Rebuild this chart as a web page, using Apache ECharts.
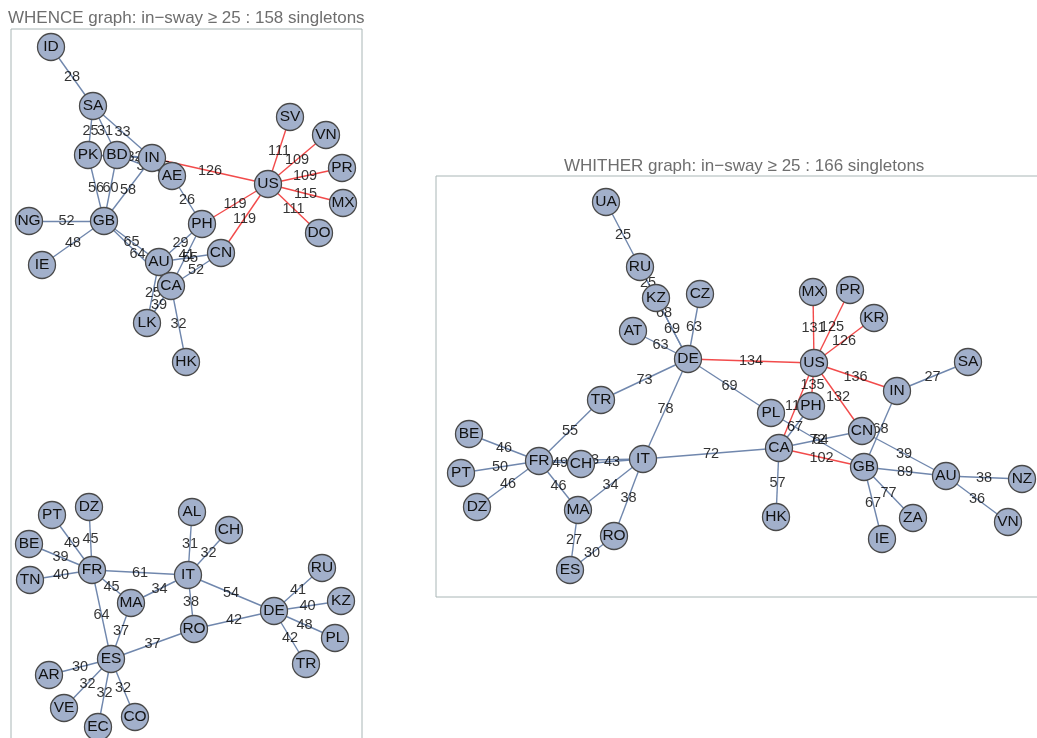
<!DOCTYPE html>
<html><head><meta charset="utf-8">
<script src="https://cdn.jsdelivr.net/npm/echarts@6/dist/echarts.min.js"></script>
<style>html,body{margin:0;padding:0;background:#fff}#c{width:1037px;height:738px}</style>
</head><body><div id="c"></div><script>
// ---- WHENCE graph data ----
const whenceNames = ['ID','SA','PK','BD','IN','AE','US','SV','VN','PR','MX','DO','PH','GB','NG','IE','AU','CN','CA','LK','HK',
  'PT','DZ','BE','TN','FR','AL','CH','IT','MA','RO','DE','RU','KZ','PL','TR','ES','AR','VE','EC','CO'];
const whenceX = [51,93,88,117,152,172,268,290,326,342,343,319,202,104,29,42,159,221,171,147,186,
  52,89,29,30,92,192,229,188,131,194,274,322,341,335,306,111,49,64,98,135];
const whenceY = [47,106,155,155,158,176,184,117,135,168,203,233,224,221,221,265,262,253,286,323,362,
  515,507,544,580,570,512,530,575,603,629,611,568,601,638,664,659,675,708,727,717];
const whenceLinks = [
  ['ID','SA',28],['SA','PK',25],['SA','BD',31],['SA','IN',33],['PK','IN',34],['BD','IN',32],['BD','AE',30],['IN','AE',35],
  ['IN','US',126],['US','SV',111],['US','VN',109],['US','PR',109],['US','MX',115],['US','DO',111],['US','PH',119],['US','CN',119],
  ['AE','PH',26],['GB','PK',56],['GB','BD',60],['GB','IN',58],['GB','NG',52],['GB','IE',48],['GB','AU',65],['GB','CA',64],
  ['AU','PH',29],['CA','PH',41],['AU','CN',55],['CA','CN',52],['AU','LK',25],['CA','LK',39],['CA','HK',32],
  ['FR','PT',49],['FR','DZ',45],['FR','BE',39],['FR','TN',40],['FR','IT',61],['FR','MA',45],['FR','ES',64],
  ['IT','AL',31],['IT','CH',32],['IT','MA',34],['IT','RO',38],['IT','DE',54],['MA','ES',37],['ES','RO',37],['RO','DE',42],
  ['DE','RU',41],['DE','KZ',40],['DE','PL',48],['DE','TR',42],['ES','AR',30],['ES','VE',32],['ES','EC',32],['ES','CO',32]
];
// ---- WHITHER graph data ----
const whitherNames = ['UA','RU','KZ','CZ','AT','DE','MX','PR','KR','US','SA','IN','PL','PH','CN','CA','GB','AU','NZ','VN','HK','ZA','IE',
  'TR','BE','PT','DZ','FR','CH','IT','MA','RO','ES'];
const whitherX = [606,640,656,700,633,688,813,850,874,814,968,897,771,811,862,779,864,946,1022,1008,776,913,882,
  601,469,461,477,539,581,643,578,614,570];
const whitherY = [202,267,298,294,331,359,292,290,318,363,362,391,413,406,431,448,467,476,479,522,517,518,539,
  400,434,473,507,461,464,459,510,536,570];
const whitherLinks = [
  ['UA','RU',25],['RU','KZ',25],['RU','DE',68],['KZ','DE',69],['CZ','DE',63],['AT','DE',63],['DE','TR',73],['DE','US',134],
  ['DE','PL',69],['DE','IT',78],['US','MX',131],['US','PR',125],['US','KR',126],['US','IN',136],['US','CN',132],['US','PH',135],
  ['US','CA',117],['PH','CA',67],['PL','GB',72],['CA','CN',64],['CA','GB',102],['IN','GB',68],['CN','AU',39],['GB','AU',89],
  ['AU','NZ',38],['AU','VN',36],['GB','ZA',77],['GB','IE',67],['CA','HK',57],['IT','CA',72],['IN','SA',27],
  ['TR','FR',55],['FR','BE',46],['FR','PT',50],['FR','DZ',46],['FR','CH',49],['CH','IT',43],['FR','IT',53],['FR','MA',46],
  ['MA','IT',34],['IT','RO',38],['MA','ES',27],['RO','ES',30]
];
const strongThreshold = 100;
const titles = ['WHENCE graph: in\u2212sway \u2265 25 : 158 singletons', 'WHITHER graph: in\u2212sway \u2265 25 : 166 singletons'];

// ---- styling ----
const FONT = 'Liberation Sans, Arial, sans-serif';
const nodeFill = '#a2b0cb', nodeBorder = '#4a4a4a';
const weakColor = '#7087ad', strongColor = '#f24b4b';

function build(names, xs, ys, links, gi) {
  const pos = {};
  names.forEach((n, i) => pos[n] = [xs[i], ys[i]]);
  const lineData = links.map(l => ({
    coords: [pos[l[0]], pos[l[1]]],
    lineStyle: { color: l[2] >= strongThreshold ? strongColor : weakColor }
  }));
  const labelData = links.map(l => [(pos[l[0]][0] + pos[l[1]][0]) / 2, (pos[l[0]][1] + pos[l[1]][1]) / 2, l[2]]);
  const nodeData = names.map(n => ({ name: n, value: pos[n] }));
  return [
    { type: 'lines', coordinateSystem: 'cartesian2d', xAxisIndex: gi, yAxisIndex: gi, z: 1, silent: true,
      lineStyle: { width: 1.4, opacity: 1 }, data: lineData },
    { type: 'scatter', xAxisIndex: gi, yAxisIndex: gi, z: 2, silent: true, symbolSize: 0,
      label: { show: true, position: 'inside', formatter: p => p.value[2], fontSize: 14.5, color: '#000', fontFamily: FONT },
      data: labelData },
    { type: 'scatter', xAxisIndex: gi, yAxisIndex: gi, z: 3, silent: true, symbol: 'circle', symbolSize: 27,
      itemStyle: { color: nodeFill, borderColor: nodeBorder, borderWidth: 1.3, opacity: 1 },
      label: { show: true, position: 'inside', formatter: '{b}', fontSize: 15.5, color: '#111', fontFamily: FONT },
      data: nodeData }
  ];
}

const chart = echarts.init(document.getElementById('c'), null, { renderer: 'canvas' });
const hiddenAxis = { show: false, type: 'value' };
chart.setOption({
  backgroundColor: '#fff',
  animation: false,
  title: [
    { text: titles[0], left: 3, top: 5, padding: 5, textStyle: { fontSize: 17, fontWeight: 'normal', color: '#6e6e6e', fontFamily: FONT } },
    { text: titles[1], left: 559, top: 153, padding: 5, textStyle: { fontSize: 17, fontWeight: 'normal', color: '#6e6e6e', fontFamily: FONT } }
  ],
  grid: [
    { left: 11, top: 29, width: 351, height: 760, outerBoundsMode: 'none', containLabel: false, show: true, borderColor: '#a9b6b6', borderWidth: 1, backgroundColor: 'transparent' },
    { left: 436, top: 176, width: 620, height: 421, outerBoundsMode: 'none', containLabel: false, show: true, borderColor: '#a9b6b6', borderWidth: 1, backgroundColor: 'transparent' }
  ],
  xAxis: [
    Object.assign({}, hiddenAxis, { gridIndex: 0, min: 11, max: 362 }),
    Object.assign({}, hiddenAxis, { gridIndex: 1, min: 436, max: 1056 })
  ],
  yAxis: [
    Object.assign({}, hiddenAxis, { gridIndex: 0, min: 29, max: 789, inverse: true }),
    Object.assign({}, hiddenAxis, { gridIndex: 1, min: 176, max: 597, inverse: true })
  ],
  series: [].concat(
    build(whenceNames, whenceX, whenceY, whenceLinks, 0),
    build(whitherNames, whitherX, whitherY, whitherLinks, 1)
  )
});
</script></body></html>
